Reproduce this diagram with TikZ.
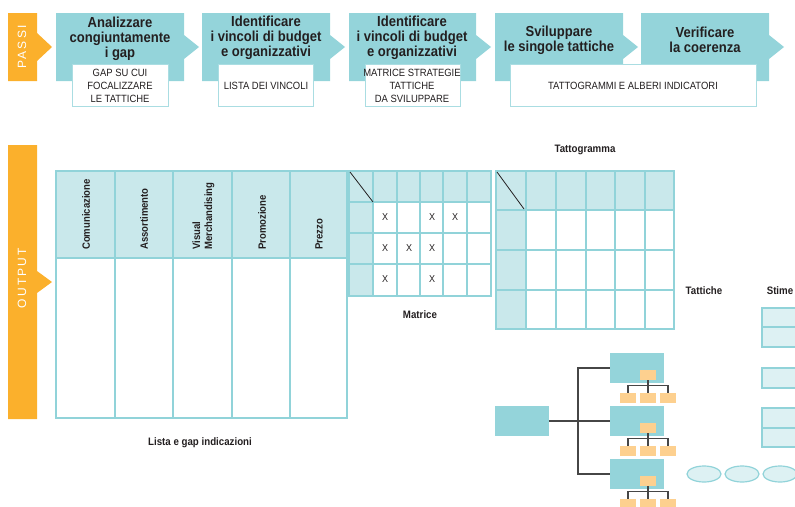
\documentclass[tikz,border=0pt]{standalone}
\usepackage{fontspec}
\setmainfont{Liberation Sans}[FakeStretch=0.9]
\newfontfamily\tabfont{Liberation Sans}[LetterSpace=18]
\usetikzlibrary{shapes.geometric}

\definecolor{stepteal}{RGB}{148,212,218}
\definecolor{taborange}{RGB}{251,176,44}
\definecolor{headfill}{RGB}{201,232,235}
\definecolor{gridteal}{RGB}{145,211,217}
\definecolor{subline}{RGB}{170,221,226}
\definecolor{leaforange}{RGB}{253,208,143}
\definecolor{stimefill}{RGB}{221,241,243}
\definecolor{ink}{RGB}{35,31,32}
\definecolor{treeline}{RGB}{70,70,70}

\begin{document}
\begin{tikzpicture}[x=1pt,y=-1pt,
  steptitle/.style={font=\bfseries\fontsize{14.5}{15}\selectfont, align=center, text=ink, inner sep=0},
  subbox/.style={draw=subline, line width=0.8pt, fill=white},
  subtext/.style={font=\fontsize{10.5}{13}\selectfont, align=center, text=ink, inner sep=0},
  tablabel/.style={font=\tabfont\fontsize{12}{12}\selectfont, text=white, rotate=90, inner sep=0},
  colhead/.style={font=\bfseries\fontsize{10.6}{12}\selectfont, rotate=90, anchor=west, align=left, inner sep=0, text=ink},
  caption/.style={font=\bfseries\fontsize{10.8}{12}\selectfont, text=ink, inner sep=0},
  gridl/.style={draw=gridteal, line width=1.4pt},
  xcell/.style={font=\fontsize{10}{11}\selectfont, text=ink, inner sep=0},
  treebox/.style={fill=stepteal, minimum width=54pt, minimum height=30pt, inner sep=0},
  orangebox/.style={fill=leaforange, minimum width=16pt, minimum height=10pt, inner sep=0},
  treeedge/.style={draw=treeline, line width=1.2pt},
  stimebox/.style={fill=stimefill, draw=gridteal, line width=1.2pt},
  oval/.style={ellipse, fill=stimefill, draw=gridteal, line width=1.2pt, minimum width=34pt, minimum height=16pt, inner sep=0}
]
\useasboundingbox (0,0) rectangle (795,506);

% ---------- PASSI band ----------
\fill[taborange] (8,13) -- (37,13) -- (37,33) -- (52,47) -- (37,61) -- (37,81) -- (8,81) -- cycle;
\node[tablabel] (passi) at (22,47) {PASSI};

\foreach \l/\r in {56/184, 202/330, 349/476, 495/623, 641/769}{
  \fill[stepteal] (\l,13) -- (\r,13) -- (\r,35) -- (\r+15,47) -- (\r,59) -- (\r,81) -- (\l,81) -- cycle;
}

\node[steptitle] (s1) at (120,39) {Analizzare\\congiuntamente\\i gap};
\node[steptitle] (s2) at (266,38) {Identificare\\i vincoli di budget\\e organizzativi};
\node[steptitle] (s3) at (412,38) {Identificare\\i vincoli di budget\\e organizzativi};
\node[steptitle] (s4) at (559,40) {Sviluppare\\le singole tattiche};
\node[steptitle] (s5) at (705,40) {Verificare\\la coerenza};

\draw[subbox] (72,64) rectangle (168,106);
\draw[subbox] (218,64) rectangle (313,106);
\draw[subbox] (365,64) rectangle (460,106);
\draw[subbox] (510,64) rectangle (756,106);

\node[subtext] (o1) at (120,86) {GAP SU CUI\\FOCALIZZARE\\LE TATTICHE};
\node[subtext] (o2) at (266,86) {LISTA DEI VINCOLI};
\node[subtext] (o3) at (412,86) {MATRICE STRATEGIE\\TATTICHE\\DA SVILUPPARE};
\node[subtext] (o4) at (633,86) {TATTOGRAMMI E ALBERI INDICATORI};

% ---------- OUTPUT band ----------
\fill[taborange] (8,145) -- (37,145) -- (37,271) -- (52,282) -- (37,293) -- (37,419) -- (8,419) -- cycle;
\node[tablabel] (output) at (22,278) {OUTPUT};

% list of gaps table
\fill[headfill] (56,171) rectangle (347,258);
\draw[gridl] (56,171) rectangle (347,418);
\foreach \x in {115,173,232,290}{ \draw[gridl] (\x,171) -- (\x,418); }
\draw[gridl] (56,258) -- (347,258);

\node[colhead] (h1) at (86,250) {Comunicazione};
\node[colhead] (h2) at (144,250) {Assortimento};
\node[colhead] (h3) at (203.5,250) {Visual\\Merchandising};
\node[colhead] (h4) at (262,250) {Promozione};
\node[colhead] (h5) at (319,250) {Prezzo};
\node[caption] (c1) at (200,443) {Lista e gap indicazioni};

% strategy/tactic matrix
\fill[headfill] (349,171) rectangle (491,202);
\fill[headfill] (349,171) rectangle (373,296);
\draw[gridl] (349,171) rectangle (491,296);
\foreach \x in {373,397,420,443,467}{ \draw[gridl] (\x,171) -- (\x,296); }
\foreach \y in {202,233,264}{ \draw[gridl] (349,\y) -- (491,\y); }
\draw[ink, line width=0.8pt] (350,172) -- (373,202);
\foreach \x/\y in {385/217, 432/217, 455/217, 385/248, 409/248, 432/248, 385/279, 432/279}{
  \node[xcell] at (\x,\y) {X};
}
\node[caption] (c2) at (420,315) {Matrice};

% tattogramma
\fill[headfill] (496,171) rectangle (674,210);
\fill[headfill] (496,171) rectangle (526,329);
\draw[gridl] (496,171) rectangle (674,329);
\foreach \x in {526,556,586,615,645}{ \draw[gridl] (\x,171) -- (\x,329); }
\foreach \y in {210,250,290}{ \draw[gridl] (496,\y) -- (674,\y); }
\draw[ink, line width=0.8pt] (497,172) -- (524,209);
\node[caption] (c3) at (585,150) {Tattogramma};

% tactics and estimates
\node[caption] (c4) at (704,291) {Tattiche};
\node[caption] (c5) at (780,291) {Stime};
\draw[stimebox] (762,308) rectangle (802,327);
\draw[stimebox] (762,327) rectangle (802,347);
\draw[stimebox] (762,368) rectangle (802,388);
\draw[stimebox] (762,408) rectangle (802,428);
\draw[stimebox] (762,428) rectangle (802,447);
\node[oval] (e1) at (704,474) {};
\node[oval] (e2) at (742,474) {};
\node[oval] (e3) at (780,474) {};

% indicator tree
\node[treebox] (root) at (522,421) {};
\coordinate (junction) at (578,421);
\foreach \c/\n in {368/1, 421/2, 474/3}{
  \node[treebox] (ch\n) at (637,\c) {};
}
\draw[treeedge] (root.east) -- (ch2.west);
\draw[treeedge] (ch1.west) -| (junction) |- (ch3.west);
\foreach \c/\n in {368/1, 421/2, 474/3}{
  \node[orangebox] (ob\n) at (648,\c+7) {};
  \node[orangebox] (la\n) at (628,\c+30) {};
  \node[orangebox] (lb\n) at (648,\c+30) {};
  \node[orangebox] (lc\n) at (668,\c+30) {};
  \draw[treeedge] (ob\n.south) -- (lb\n.north);
  \draw[treeedge] (la\n.north) -- ++(0,-7) -| (lc\n.north);
}
\end{tikzpicture}
\end{document}
